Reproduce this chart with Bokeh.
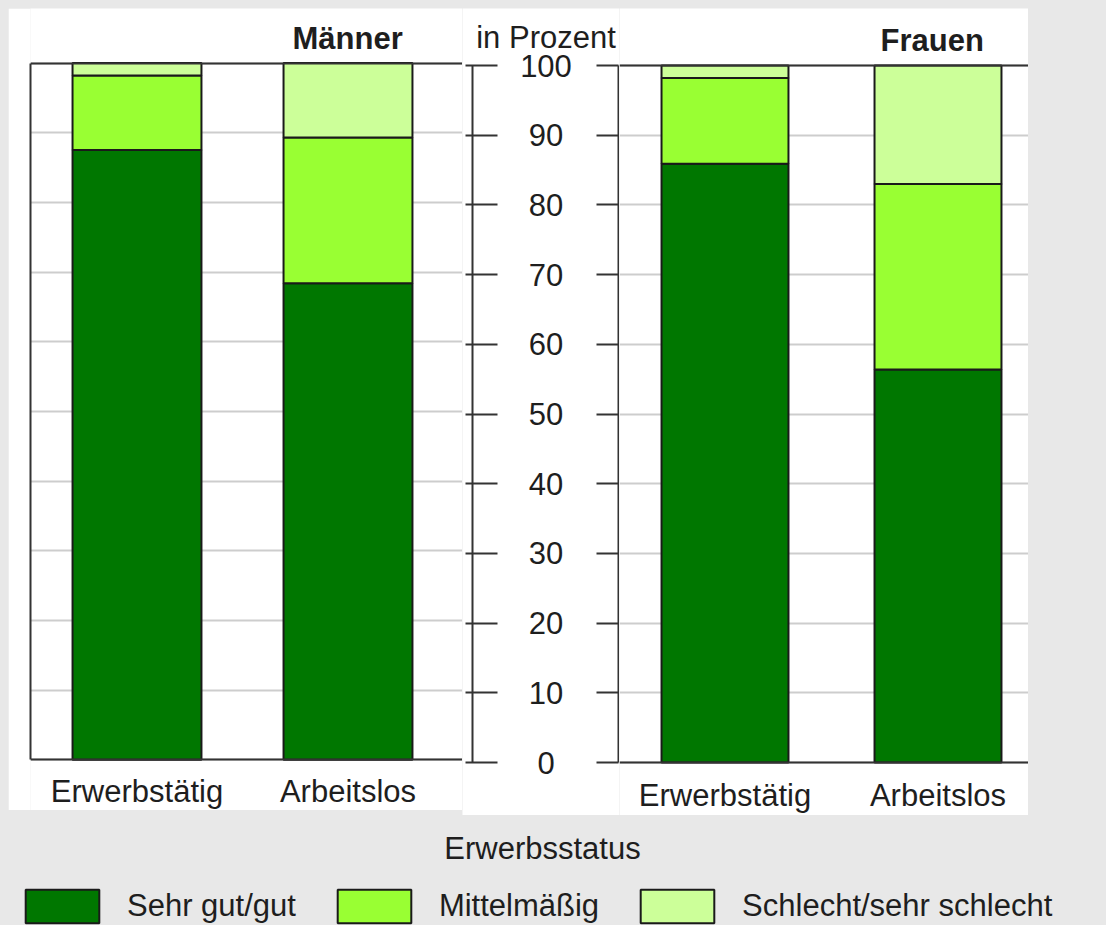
from bokeh.plotting import figure
from bokeh.models import (Range1d, FixedTicker, LinearAxis, Label, Legend, Grid,
                          LegendItem, ColumnDataSource)
from bokeh.layouts import row, column
from bokeh.embed import file_html
from bokeh.resources import INLINE

# ---------------- data ----------------
status = ["Erwerbstätig", "Arbeitslos"]
groups = ["Männer", "Frauen"]
ratings = ["Sehr gut/gut", "Mittelmäßig", "Schlecht/sehr schlecht"]
men_good = [87.5, 68.4]
men_mid = [10.7, 20.9]
men_bad = [1.8, 10.7]
women_good = [85.9, 56.4]
women_mid = [12.3, 26.6]
women_bad = [1.8, 17.0]
y_ticks = [0, 10, 20, 30, 40, 50, 60, 70, 80, 90, 100]
y_unit_label = "in Prozent"
x_axis_title = "Erwerbsstatus"
colors = ["#007700", "#99ff33", "#ccff99"]

# ---------------- style / layout ----------------
FONT = "Liberation Sans"
FS = "31px"
TXT = "#1e1e1e"
LINE = "#333333"
GRID = "#cdcdcd"
BG = "#e8e8e8"
PAGE_TOP = 8

x_pos = list(range(len(status)))
stack_keys = ["good", "mid", "bad"]


def span_range(p0, p1, ref_px, ref_val, ppu, flip=False):
    """range covering page pixels p0..p1, where ref_val sits at ref_px (ppu px per unit)."""
    if flip:
        return Range1d(ref_val + (ref_px - p1) / ppu, ref_val + (ref_px - p0) / ppu)
    return Range1d(ref_val + (p0 - ref_px) / ppu, ref_val + (p1 - ref_px) / ppu)


def line_axis(loc=None, ticks=None, bounds=None, tick_in=0, tick_out=0):
    ax = LinearAxis(ticker=FixedTicker(ticks=ticks or [], minor_ticks=[]))
    if loc is not None:
        ax.fixed_location = loc
    ax.axis_line_color = LINE
    ax.axis_line_width = 2
    ax.major_tick_line_color = LINE
    ax.major_tick_line_width = 2
    ax.minor_tick_line_color = None
    ax.major_tick_in = tick_in
    ax.major_tick_out = tick_out
    ax.major_label_text_color = None
    ax.major_label_standoff = 0
    if bounds is not None:
        ax.bounds = bounds
    return ax


def panel(good, mid, bad, p_left, frame_left, p_right, page_bottom, bar_c0, ppu_x,
          y0_px, y100_px, bar_width, standoff, title, title_px, title_base_px, left_line):
    ppu_y = (y0_px - y100_px) / 100
    xr = span_range(frame_left, p_right, bar_c0, 0, ppu_x)
    yr = span_range(PAGE_TOP, page_bottom, y0_px, 0, ppu_y, flip=True)
    p = figure(width=p_right - p_left, height=page_bottom - PAGE_TOP, x_range=xr, y_range=yr,
               output_backend="svg", toolbar_location=None,
               x_axis_type=None, y_axis_type=None,
               min_border_left=frame_left - p_left, min_border_right=0,
               min_border_top=0, min_border_bottom=0,
               background_fill_color="white", border_fill_color="white")
    p.outline_line_color = None
    p.add_layout(Grid(dimension=1, ticker=FixedTicker(ticks=y_ticks, minor_ticks=[]),
                      grid_line_color=GRID, grid_line_width=2))
    src = ColumnDataSource(dict(x=x_pos, good=good, mid=mid, bad=bad))
    p.vbar_stack(stack_keys, x="x", width=bar_width, source=src,
                 fill_color=colors, line_color="#1a1a1a", line_width=2)
    # bottom frame line with the category labels
    xa = line_axis(0, ticks=x_pos)
    xa.major_label_overrides = {i: s for i, s in zip(x_pos, status)}
    xa.major_label_standoff = standoff
    xa.major_label_text_font = FONT
    xa.major_label_text_font_size = FS
    xa.major_label_text_color = TXT
    p.add_layout(xa, "below")
    # top frame line
    p.add_layout(line_axis(100), "above")
    # left frame line (ordinary axis at the frame edge)
    if left_line:
        p.add_layout(line_axis(bounds=(0, 100)), "left")
    p.add_layout(Label(x=title_px - frame_left, y=page_bottom - title_base_px,
                       x_units="screen", y_units="screen", text=title,
                       text_font=FONT, text_font_size=FS, text_font_style="bold",
                       text_color=TXT, text_align="left", text_baseline="alphabetic"))
    return p


# ---------------- left panel (Männer) ----------------
left = panel(men_good, men_mid, men_bad, 8, 30, 462, 810, 136.5, 211, 759.3, 62.5,
             0.611, 14, groups[0], 292, 38.3, True)

# ---------------- middle: shared value axis ----------------
MID_L, MID_R, MID_BOTTOM = 462, 619, 815
Y0, Y100 = 762, 65
mid = figure(width=MID_R - MID_L, height=MID_BOTTOM - PAGE_TOP, x_range=Range1d(MID_L, MID_R),
             y_range=span_range(PAGE_TOP, MID_BOTTOM, Y0, 0, (Y0 - Y100) / 100, flip=True),
             output_backend="svg", toolbar_location=None, x_axis_type=None, y_axis_type=None,
             min_border_left=0, min_border_right=0, min_border_top=0, min_border_bottom=0,
             background_fill_color="white", border_fill_color="white")
mid.outline_line_color = None
mid.add_layout(line_axis(472, ticks=y_ticks, bounds=(0, 100), tick_in=25, tick_out=7), "left")
mid.add_layout(line_axis(618, ticks=y_ticks, bounds=(0, 100), tick_out=22), "left")

# centred value labels (one axis per label width so that they line up centred)
label_center = 545.5
digit_w = 0.556 * 31
for nd in (1, 2, 3):
    sub = [t for t in y_ticks if len(str(t)) == nd]
    ax = LinearAxis(ticker=FixedTicker(ticks=sub, minor_ticks=[]),
                    fixed_location=label_center + nd * digit_w / 2)
    ax.axis_line_color = None
    ax.major_tick_line_color = None
    ax.minor_tick_line_color = None
    ax.major_tick_in = 0
    ax.major_tick_out = 0
    ax.major_label_standoff = 0
    ax.major_label_text_font = FONT
    ax.major_label_text_font_size = FS
    ax.major_label_text_color = TXT
    mid.add_layout(ax, "left")

mid.add_layout(Label(x=label_center - MID_L, y=MID_BOTTOM - 37, x_units="screen",
                     y_units="screen", text=y_unit_label, text_font=FONT, text_font_size=FS,
                     text_color=TXT, text_align="center", text_baseline="alphabetic"))

# ---------------- right panel (Frauen) ----------------
right = panel(women_good, women_mid, women_bad, 619, 619, 1028, 815, 724.5, 213, Y0, Y100,
              0.596, 15, groups[1], 880, 40, False)

# ---------------- bottom: axis title + legend ----------------
BOT_H = 110
bottom = figure(width=1090, height=BOT_H, x_range=Range1d(-1, 2), y_range=Range1d(0, 100),
                output_backend="svg", toolbar_location=None,
                x_axis_type=None, y_axis_type=None,
                min_border_left=0, min_border_right=0, min_border_top=0, min_border_bottom=0,
                background_fill_color=BG, border_fill_color=BG)
bottom.outline_line_color = None
bsrc = ColumnDataSource(dict(x=x_pos, good=men_good, mid=men_mid, bad=men_bad))
rs = bottom.vbar_stack(stack_keys, x="x", width=0.6, source=bsrc,
                       fill_color=colors, line_color="#1a1a1a", line_width=2)
for r in rs:
    r.visible = False
legend = Legend(items=[LegendItem(label=lab, renderers=[r]) for lab, r in zip(ratings, rs)],
                orientation="horizontal", location=(8, -2),
                glyph_width=92, glyph_height=42, label_standoff=19, spacing=32,
                padding=0, margin=0, border_line_color=None, background_fill_alpha=0,
                inactive_fill_alpha=0,
                label_text_font=FONT, label_text_font_size=FS, label_text_color=TXT)
bottom.add_layout(legend)
bottom.add_layout(Label(x=534, y=BOT_H - 33, x_units="screen", y_units="screen",
                        text=x_axis_title, text_font=FONT, text_font_size=FS, text_color=TXT,
                        text_align="center", text_baseline="alphabetic"))

layout = column(row(left, mid, right), bottom)

html = file_html(layout, INLINE, title="Gesundheit nach Erwerbsstatus")
html = html.replace(
    "</head>",
    "<style>html, body { background: #e8e8e8; } "
    "body { margin: 8px 8px 0 8px; height: auto; }</style></head>",
    1)
open("out.html", "w").write(html)
